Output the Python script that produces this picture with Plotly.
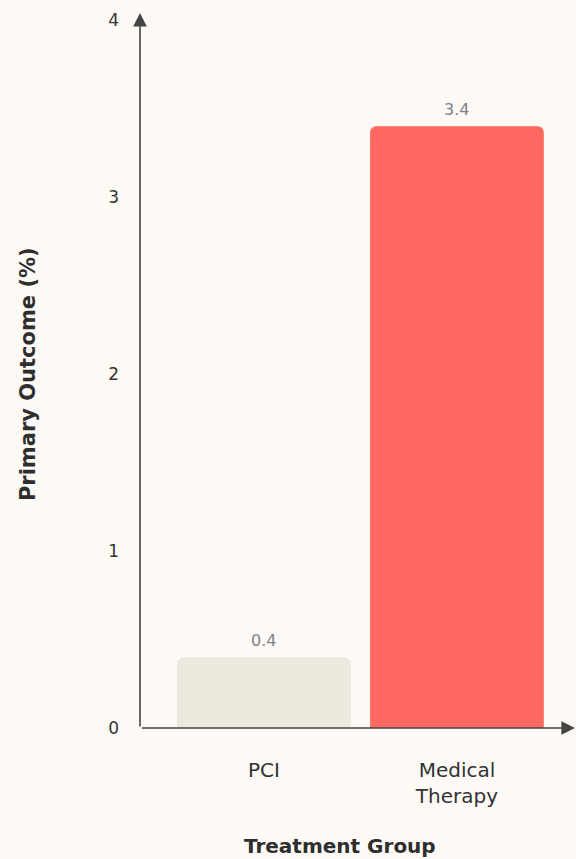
import plotly.graph_objects as go

categories = ["PCI", "Medical<br>Therapy"]
values = [0.4, 3.4]
value_labels = ["0.4", "3.4"]
bar_colors = ["#EDE8DE", "#FF6961"]
y_ticks = [0, 1, 2, 3, 4]

FONT = "DejaVu Sans, sans-serif"
AXIS = "#454545"

fig = go.Figure()
fig.add_trace(go.Bar(
    x=categories, y=values,
    marker=dict(color=bar_colors, cornerradius=6, line=dict(width=0)),
    width=0.9, hoverinfo="skip",
))

for c, v, t in zip(categories, values, value_labels):
    fig.add_annotation(x=c, y=v, text=t, showarrow=False, yanchor="bottom",
                       yshift=5, font=dict(family=FONT, size=16, color="#7d818a"))

# axis lines with arrowheads
fig.add_annotation(xref="paper", yref="paper", x=0, y=1.01, ax=0, ay=715,
                   axref="pixel", ayref="pixel", showarrow=True, arrowhead=2,
                   arrowsize=1.7, arrowwidth=1.6, arrowcolor=AXIS, text="")
fig.add_annotation(xref="paper", yref="paper", x=1.01, y=0, ax=-436, ay=0,
                   axref="pixel", ayref="pixel", showarrow=True, arrowhead=2,
                   arrowsize=1.7, arrowwidth=1.6, arrowcolor=AXIS, text="")

# axis titles
fig.add_annotation(xref="paper", yref="paper", x=0.463, y=-0.1667, yanchor="middle",
                   text="<b>Treatment Group</b>", showarrow=False,
                   font=dict(family=FONT, size=20, color="#2e2e2e"))
fig.add_annotation(xref="paper", yref="paper", x=-0.259, y=0.5, xanchor="center",
                   yanchor="middle", textangle=-90, text="<b>Primary Outcome (%)</b>",
                   showarrow=False, font=dict(family=FONT, size=21, color="#2e2e2e"))

fig.update_layout(
    width=576, height=859,
    margin=dict(l=140, r=4, t=20, b=131),
    paper_bgcolor="#FDFAF6", plot_bgcolor="#FDFAF6",
    showlegend=False,
    bargap=0.1,
    xaxis=dict(range=[-0.642, 1.596], showgrid=False, zeroline=False, showline=False,
               ticks="", ticklabelstandoff=28,
               tickfont=dict(family=FONT, size=20, color="#333333")),
    yaxis=dict(range=[0, 4], tickvals=y_ticks, showgrid=False, zeroline=False,
               showline=False, ticks="", ticklabelstandoff=20,
               tickfont=dict(family=FONT, size=17, color="#333333")),
)

fig.write_html("out.html")
